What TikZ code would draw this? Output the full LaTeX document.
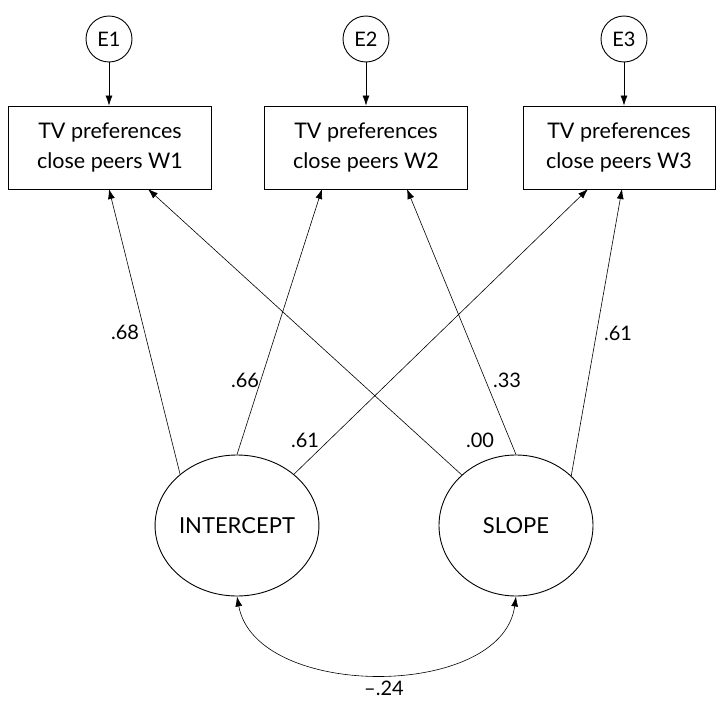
\documentclass[tikz,border=0pt]{standalone}
\usepackage{fontspec}
\setmainfont{Lato}
\usetikzlibrary{shapes.geometric,arrows.meta}
\begin{document}
\begin{tikzpicture}[x=1pt,y=-1pt,
  every node/.style={font=\fontsize{20}{30}\selectfont},
  errc/.style={circle,draw,line width=0.9pt,minimum size=46pt,inner sep=0pt},
  obsbox/.style={rectangle,draw,line width=0.9pt,minimum height=83pt,align=center,inner sep=0pt,font=\fontsize{21.5}{30}\selectfont},
  latent/.style={ellipse,draw,line width=0.9pt,minimum width=154pt,minimum height=141pt,inner sep=0pt,font=\fontsize{22}{30}\selectfont},
  path/.style={line width=0.6pt,-{Latex[length=10pt,width=7pt]}},
  coef/.style={inner sep=0pt}
]
\useasboundingbox (0,0) rectangle (716,701);
\node[errc] (e1) at (109,39) {E1};
\node[errc] (e2) at (366,39) {E2};
\node[errc] (e3) at (624,39) {E3};
\node[obsbox,minimum width=203pt] (w1) at (110,147.5) {TV preferences\\close peers W1};
\node[obsbox,minimum width=203pt] (w2) at (366,147.5) {TV preferences\\close peers W2};
\node[obsbox,minimum width=192pt] (w3) at (619,147.5) {TV preferences\\close peers W3};
\node[latent] (int) at (237,525.5) {INTERCEPT};
\node[latent] (slo) at (516,525.5) {SLOPE};
\draw[path] (e1) -- (w1.north -| e1);
\draw[path] (e2) -- (w2.north -| e2);
\draw[path] (e3) -- (w3.north -| e3);
\coordinate (b1i) at (109,189);
\coordinate (b1s) at (148,189);
\coordinate (b2i) at (322,189);
\coordinate (b2s) at (407,189);
\coordinate (b3i) at (588,189);
\coordinate (b3s) at (622,189);
\draw[path] (int.138) -- (b1i);
\draw[path] (int.90) -- (b2i);
\draw[path] (int.42) -- (b3i);
\draw[path] (slo.137) -- (b1s);
\draw[path] (slo.90) -- (b2s);
\draw[path] (slo.42) -- (b3s);
\draw[line width=0.6pt,{Latex[length=10pt,width=7pt]}-{Latex[length=10pt,width=7pt]}]
  (int.south) .. controls (256,700) and (502,700) .. (slo.south);
\node[coef] (l1) at (125,332) {.68};
\node[coef] (l2) at (245,380) {.66};
\node[coef] (l3) at (305,440) {.61};
\node[coef] (l4) at (480,440) {.00};
\node[coef] (l5) at (507,380) {.33};
\node[coef] (l6) at (618,333) {.61};
\node[coef] (l7) at (384,688) {–.24};
\end{tikzpicture}
\end{document}
